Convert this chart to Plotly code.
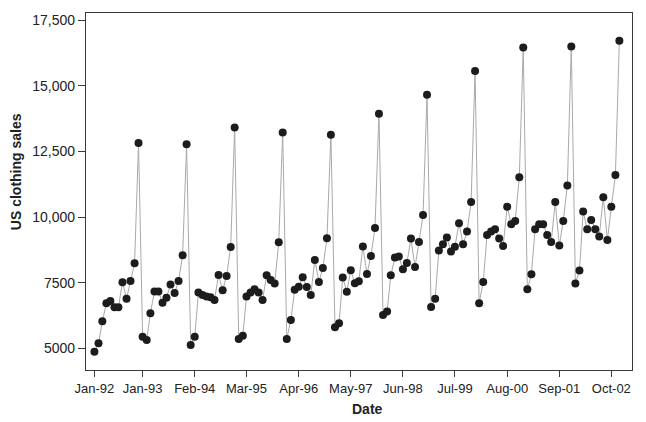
import pandas as pd
import plotly.graph_objects as go

# Monthly US clothing sales, Jan 1992 - Dec 2002
dates = pd.date_range("1992-01-01", periods=132, freq="MS")
sales = [
    4870, 5191, 6030, 6717, 6805, 6564, 6564, 7518, 6892, 7568, 8243, 12822,   # 1992
    5443, 5317, 6335, 7160, 7160, 6740, 6930, 7427, 7110, 7568, 8548, 12783,   # 1993
    5126, 5443, 7122, 7034, 6970, 6946, 6843, 7797, 7211, 7759, 8865, 13417,   # 1994
    5355, 5481, 6970, 7122, 7250, 7122, 6843, 7785, 7606, 7465, 9044, 13226,   # 1995
    5355, 6080, 7236, 7350, 7709, 7339, 7034, 8369, 7530, 8064, 9197, 13138,   # 1996
    5801, 5950, 7700, 7155, 7976, 7480, 7556, 8877, 7835, 8522, 9590, 13940,   # 1997
    6265, 6400, 7785, 8457, 8503, 8014, 8250, 9182, 8102, 9050, 10080, 14664,  # 1998
    6576, 6892, 8730, 8968, 9228, 8686, 8870, 9770, 8968, 9449, 10576, 15568,  # 1999
    6717, 7524, 9322, 9450, 9540, 9182, 8903, 10397, 9731, 9851, 11524, 16469, # 2000
    7250, 7823, 9540, 9731, 9731, 9323, 9050, 10576, 8915, 9857, 11204, 16507, # 2001
    7465, 7961, 10213, 9540, 9890, 9540, 9258, 10761, 9126, 10391, 11606, 16726, # 2002
]

x_tick_vals = ["1992-01-01", "1993-01-01", "1994-02-01", "1995-03-01", "1996-04-01",
               "1997-05-01", "1998-06-01", "1999-07-01", "2000-08-01", "2001-09-01",
               "2002-10-01"]
x_tick_text = ["Jan-92", "Jan-93", "Feb-94", "Mar-95", "Apr-96", "May-97",
               "Jun-98", "Jul-99", "Aug-00", "Sep-01", "Oct-02"]
y_tick_vals = [5000, 7500, 10000, 12500, 15000, 17500]
y_tick_text = ["5000", "7500", "10,000", "12,500", "15,000", "17,500"]

FONT = "Liberation Sans, Arial, Helvetica, sans-serif"
AXIS_COLOR = "#3a3a3a"

fig = go.Figure()
fig.add_trace(go.Scatter(
    x=dates, y=sales, mode="lines+markers",
    line=dict(color="#a9a9a9", width=1),
    marker=dict(color="#1c1c1c", size=8, line=dict(width=0)),
    showlegend=False,
))

fig.update_layout(
    width=646, height=422,
    margin=dict(l=86, r=14, t=13, b=52),
    paper_bgcolor="white", plot_bgcolor="white",
    font=dict(family=FONT, color="#222222"),
    xaxis=dict(
        type="date", range=["1991-10-29", "2003-03-07"],
        tickvals=x_tick_vals, ticktext=x_tick_text,
        ticks="outside", ticklen=6, tickwidth=1.2, tickcolor=AXIS_COLOR,
        showline=True, linecolor=AXIS_COLOR, linewidth=1.3, mirror=True,
        showgrid=False, zeroline=False,
        tickfont=dict(size=13, color="#222222"),
    ),
    yaxis=dict(
        range=[4172, 17782],
        tickvals=y_tick_vals, ticktext=y_tick_text,
        ticks="outside", ticklen=7, tickwidth=1.2, tickcolor=AXIS_COLOR,
        showline=True, linecolor=AXIS_COLOR, linewidth=1.3, mirror=True,
        showgrid=False, zeroline=False,
        tickfont=dict(size=14, color="#222222"),
    ),
    annotations=[
        dict(text="<b>Date</b>", xref="paper", yref="paper", x=0.515, y=-0.1088,
             xanchor="center", yanchor="middle", showarrow=False,
             font=dict(size=14, family=FONT, color="#222222")),
        dict(text="<b>US clothing sales</b>", xref="paper", yref="paper",
             x=-0.1285, y=0.5565, textangle=-90,
             xanchor="center", yanchor="middle", showarrow=False,
             font=dict(size=14, family=FONT, color="#222222")),
    ],
)

fig.write_html("out.html")
